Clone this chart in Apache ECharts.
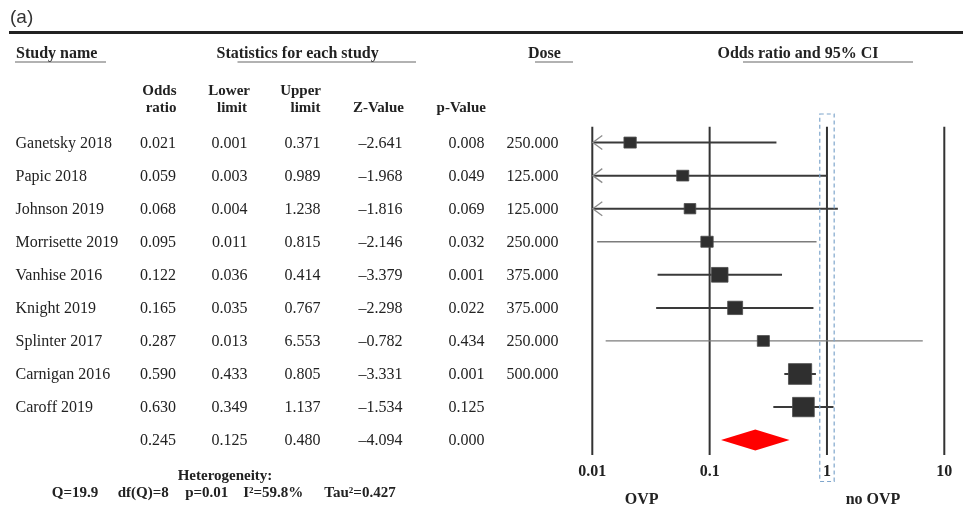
<!DOCTYPE html>
<html><head><meta charset="utf-8">
<script src="https://cdn.jsdelivr.net/npm/echarts@6/dist/echarts.min.js"></script>
<style>html,body{margin:0;padding:0;background:#fff}#c{width:963px;height:517px}</style>
</head><body><div id="c"></div>
<script>
// ---- data ----
const studies = ['Ganetsky 2018','Papic 2018','Johnson 2019','Morrisette 2019','Vanhise 2016','Knight 2019','Splinter 2017','Carnigan 2016','Caroff 2019'];
const oddsRatio = [0.021,0.059,0.068,0.095,0.122,0.165,0.287,0.590,0.630];
const lowerLimit = [0.001,0.003,0.004,0.011,0.036,0.035,0.013,0.433,0.349];
const upperLimit = [0.371,0.989,1.238,0.815,0.414,0.767,6.553,0.805,1.137];
const zValue = [-2.641,-1.968,-1.816,-2.146,-3.379,-2.298,-0.782,-3.331,-1.534];
const pValue = [0.008,0.049,0.069,0.032,0.001,0.022,0.434,0.001,0.125];
const dose = [250,125,125,250,375,375,250,500,null];
const weights = [6.8,6.5,6.0,6.8,12.2,10.0,6.5,24.1,21.1]; // estimated relative weights (%)
const pooled = [0.245,0.125,0.480,-4.094,0.000]; // OR, lower, upper, Z, p
const tickLabels = ['0.01','0.1','1','10'];
const heterogeneity = ['Q=19.9','df(Q)=8','p=0.01','I\u00B2=59.8%','Tau\u00B2=0.427'];

// ---- styles ----
const thinRows = [3,6];
const SERIF = '"Liberation Serif","Times New Roman",serif';
const TXT = '#222';

const xMin = +tickLabels[0], xMax = +tickLabels[tickLabels.length-1];
const yMin = -0.48, yMax = 9.45;

const chart = echarts.init(document.getElementById('c'), null, {renderer:'canvas'});

const studyData = studies.map((s,i)=>[i, oddsRatio[i], lowerLimit[i], upperLimit[i], weights[i]]);

function renderStudy(params, api){
  const i = api.value(0), or = api.value(1), lo = api.value(2), hi = api.value(3), w = api.value(4);
  const loC = Math.max(lo, xMin), hiC = Math.min(hi, xMax);
  const p0 = api.coord([loC, i]), p1 = api.coord([hiC, i]), pc = api.coord([or, i]);
  const thin = thinRows.indexOf(i) >= 0;
  const children = [{type:'line', shape:{x1:p0[0],y1:p0[1],x2:p1[0],y2:p1[1]},
    style:{stroke: thin ? '#7c7c7c' : '#3a3a3a', lineWidth: thin ? 1.3 : 2}}];
  if (lo < xMin) {
    children.push({type:'polyline', shape:{points:[[p0[0]+10,p0[1]-7],[p0[0]+0.5,p0[1]],[p0[0]+10,p0[1]+7]]},
      style:{stroke:'#8c8c8c', lineWidth:1.3, fill:null}});
  }
  const s = 4.22*Math.sqrt(w);
  const wd = s*1.12;
  children.push({type:'rect', shape:{x:pc[0]-wd/2, y:pc[1]-s/2, width:wd, height:s},
    style:{fill:'#2f2f2f', stroke:'#4a4a4a', lineWidth:0.8}});
  return {type:'group', children};
}

function renderPooled(params, api){
  const i = api.value(0);
  const c = api.coord([api.value(1), i]), l = api.coord([api.value(2), i]), r = api.coord([api.value(3), i]);
  const h = 10.5;
  return {type:'polygon', shape:{points:[[l[0],c[1]],[c[0],c[1]-h],[r[0],c[1]],[c[0],c[1]+h]]},
    style:{fill:'#ff0000', stroke:null}};
}

function renderRef(params, api){
  const v = api.value(0);
  const a = api.coord([v, yMin]), b = api.coord([v, yMax]);
  return {type:'line', shape:{x1:a[0],y1:a[1],x2:b[0],y2:b[1]}, style:{stroke:'#333', lineWidth:2}};
}

chart.setOption({
  animation:false,
  backgroundColor:'#fff',
  grid:{left:592.3, top:126.7, width:352, height:328.3, outerBoundsMode:'none'},
  xAxis:{type:'log', logBase:10, min:xMin, max:xMax,
    axisLine:{show:false}, axisTick:{show:false}, splitLine:{show:false},
    axisLabel:{margin:9, fontFamily:SERIF, fontWeight:'bold', fontSize:16, color:TXT,
      formatter:(v)=>{const t = tickLabels.find(t=>Math.abs(Math.log10(+t)-Math.log10(v))<1e-6); return t||'';}}},
  yAxis:{type:'value', min:yMin, max:yMax, inverse:true, show:false},
  series:[
    {type:'custom', name:'ref', renderItem:renderRef, data:tickLabels.map(t=>[+t]), encode:{x:0}, silent:true, z:1},
    {type:'custom', name:'studies', renderItem:renderStudy, data:studyData, encode:{x:[1,2,3], y:0}, z:3},
    {type:'custom', name:'pooled', renderItem:renderPooled, data:[[studies.length, pooled[0], pooled[1], pooled[2]]], encode:{x:[1,2,3], y:0}, z:3}
  ]
});

// ---- table / text layer ----
const rowY = i => chart.convertToPixel({yAxisIndex:0}, i);
const xOf = v => chart.convertToPixel({xAxisIndex:0}, v);
const g = [];
function txt(text, x, y, opt){
  opt = opt || {};
  g.push({type:'text', silent:true, style:{text, x, y, fill:opt.fill||TXT,
    font:(opt.bold?'bold ':'')+(opt.size||16)+'px '+(opt.family||SERIF),
    align:opt.align||'left', verticalAlign:'middle'}});
}
function ln(x1,y1,x2,y2,stroke,w){
  g.push({type:'line', silent:true, shape:{x1,y1,x2,y2}, style:{stroke, lineWidth:w}});
}
const fmt = v => v.toFixed(3);
const fmtZ = v => (v<0?'\u2013':'') + Math.abs(v).toFixed(3);

txt('(a)', 10, 18, {family:'"Liberation Sans",Arial,sans-serif', size:19, fill:'#333'});
ln(9, 32.5, 963, 32.5, '#222', 3);

// headers
txt('Study name', 16, 54, {bold:true});
txt('Statistics for each study', 216.5, 54, {bold:true});
txt('Dose', 528, 54, {bold:true});
txt('Odds ratio and 95% CI', 717.5, 54, {bold:true});
ln(15, 62, 106, 62, '#666', 1.2);
ln(237.5, 62, 416, 62, '#666', 1.2);
ln(535, 62, 573, 62, '#666', 1.2);
ln(743, 62, 913, 62, '#666', 1.2);

const colR = [176, 247.5, 320.5, 402.5, 484.5, 558.5];
txt('Odds', 176.5, 91, {bold:true, size:15, align:'right'});
txt('ratio', 176.5, 108.5, {bold:true, size:15, align:'right'});
txt('Lower', 250, 91, {bold:true, size:15, align:'right'});
txt('limit', 247, 108.5, {bold:true, size:15, align:'right'});
txt('Upper', 321, 91, {bold:true, size:15, align:'right'});
txt('limit', 320.5, 108.5, {bold:true, size:15, align:'right'});
txt('Z-Value', 404, 108.5, {bold:true, size:15, align:'right'});
txt('p-Value', 486, 108.5, {bold:true, size:15, align:'right'});

studies.forEach((s,i)=>{
  const y = rowY(i) + 1;
  txt(s, 15.5, y);
  txt(fmt(oddsRatio[i]), colR[0], y, {align:'right'});
  txt(fmt(lowerLimit[i]), colR[1], y, {align:'right'});
  txt(fmt(upperLimit[i]), colR[2], y, {align:'right'});
  txt(fmtZ(zValue[i]), colR[3], y, {align:'right'});
  txt(fmt(pValue[i]), colR[4], y, {align:'right'});
  if (dose[i] != null) txt(fmt(dose[i]), colR[5], y, {align:'right'});
});
const yP = rowY(studies.length) + 1;
txt(fmt(pooled[0]), colR[0], yP, {align:'right'});
txt(fmt(pooled[1]), colR[1], yP, {align:'right'});
txt(fmt(pooled[2]), colR[2], yP, {align:'right'});
txt(fmtZ(pooled[3]), colR[3], yP, {align:'right'});
txt(fmt(pooled[4]), colR[4], yP, {align:'right'});

// heterogeneity
txt('Heterogeneity:', 225, 476, {bold:true, size:15, align:'center'});
const hetX = [75, 143.3, 206.7, 273.3, 360];
heterogeneity.forEach((h,i)=>txt(h, hetX[i], 493.5, {bold:true, size:15, align:'center'}));

// direction labels
txt('OVP', 641.7, 500, {bold:true, align:'center'});
txt('no OVP', 873, 500, {bold:true, align:'center'});

// dashed box around OR = 1
const x1 = xOf(1);
g.push({type:'rect', silent:true, shape:{x:x1-7.2, y:114, width:14.4, height:367.5},
  style:{fill:null, stroke:'#7fa6cc', lineWidth:1.2, lineDash:[4,3]}, z:10});

chart.setOption({graphic:{elements:g}});
</script></body></html>
